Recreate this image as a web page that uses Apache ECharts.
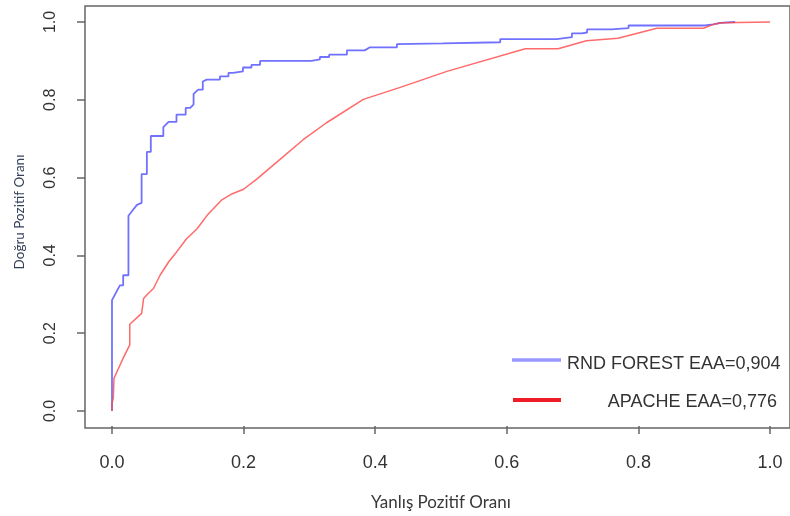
<!DOCTYPE html>
<html>
<head>
<meta charset="utf-8">
<script src="https://cdn.jsdelivr.net/npm/echarts@6/dist/echarts.min.js"></script>
<style>
html,body{margin:0;padding:0;background:#fff;}
#chart{width:790px;height:516px;}
</style>
</head>
<body>
<div id="chart"></div>
<script>
// RND FOREST ROC curve (false positive rate, true positive rate)
var rfFpr = [0,0,0.012,0.017,0.017,0.025,0.025,0.030,0.038,0.045,0.045,0.053,0.053,0.059,0.059,0.078,0.078,0.086,0.098,0.098,0.112,0.112,0.119,0.124,0.124,0.131,0.138,0.138,0.144,0.164,0.164,0.177,0.177,0.184,0.184,0.199,0.199,0.212,0.212,0.225,0.225,0.303,0.303,0.316,0.316,0.330,0.330,0.357,0.357,0.384,0.392,0.433,0.433,0.503,0.590,0.590,0.676,0.676,0.699,0.699,0.714,0.722,0.722,0.759,0.759,0.785,0.785,0.901,0.914,0.924,0.947];
var rfTpr = [0,0.285,0.323,0.323,0.349,0.349,0.502,0.513,0.530,0.535,0.609,0.609,0.666,0.666,0.707,0.707,0.730,0.743,0.743,0.762,0.762,0.779,0.779,0.788,0.815,0.826,0.826,0.847,0.852,0.852,0.860,0.860,0.869,0.869,0.873,0.873,0.883,0.883,0.890,0.890,0.900,0.900,0.904,0.904,0.910,0.910,0.916,0.916,0.927,0.927,0.935,0.935,0.943,0.945,0.948,0.956,0.956,0.961,0.961,0.971,0.971,0.973,0.981,0.981,0.984,0.984,0.991,0.991,0.994,0.998,1.0];
// APACHE ROC curve
var apFpr = [0,0,0.002,0.003,0.010,0.017,0.027,0.027,0.045,0.048,0.055,0.063,0.073,0.086,0.096,0.113,0.129,0.146,0.167,0.182,0.200,0.220,0.250,0.291,0.326,0.382,0.438,0.509,0.628,0.678,0.721,0.769,0.828,0.899,0.914,0.929,1.0];
var apTpr = [0,0.020,0.033,0.084,0.110,0.136,0.170,0.223,0.251,0.289,0.302,0.315,0.349,0.383,0.404,0.442,0.468,0.506,0.543,0.558,0.570,0.596,0.639,0.698,0.741,0.801,0.832,0.873,0.931,0.931,0.952,0.958,0.984,0.984,0.994,0.998,1.0];
var seriesNames = ['RND FOREST EAA=0,904', 'APACHE EAA=0,776'];
var tickValues = [0, 0.2, 0.4, 0.6, 0.8, 1.0];
var xTitle = 'Yanlış Pozitif Oranı';
var yTitle = 'Doğru Pozitif Oranı';

function zip(a, b) { return a.map(function (v, i) { return [v, b[i]]; }); }
function fmt(v) { return v.toFixed(1); }

var chart = echarts.init(document.getElementById('chart'), null, {renderer: 'canvas'});
chart.setOption({
  animation: false,
  backgroundColor: '#ffffff',
  grid: [
    {left: 112, right: 20, top: 22, bottom: 103},
    {left: 85, right: -6, top: 6, bottom: 88, show: true, borderColor: '#666', borderWidth: 1.5, backgroundColor: 'transparent', z: 0}
  ],
  xAxis: [
    {
      type: 'value', gridIndex: 0, min: tickValues[0], max: tickValues[tickValues.length - 1], interval: 0.2,
      offset: 15,
      axisLine: {show: false, onZero: false},
      axisTick: {show: true, length: 8, lineStyle: {color: '#666', width: 1.5}},
      splitLine: {show: false},
      axisLabel: {formatter: fmt, fontSize: 18, color: '#333', margin: 28, fontFamily: 'Liberation Sans, Arial, sans-serif'},
      name: xTitle, nameLocation: 'middle', nameGap: 68,
      nameTextStyle: {fontSize: 17, color: '#383838', fontFamily: 'Lato, Open Sans, sans-serif'}
    },
    {type: 'value', gridIndex: 1, min: -0.04, max: 1.04, show: false}
  ],
  yAxis: [
    {
      type: 'value', gridIndex: 0, min: tickValues[0], max: tickValues[tickValues.length - 1], interval: 0.2,
      offset: 27,
      axisLine: {show: false, onZero: false},
      axisTick: {show: true, length: 8, lineStyle: {color: '#666', width: 1.5}},
      splitLine: {show: false},
      axisLabel: {formatter: fmt, fontSize: 16, color: '#333', margin: 26, rotate: 90, fontFamily: 'Liberation Sans, Arial, sans-serif'},
      name: yTitle, nameLocation: 'middle', nameGap: 58,
      nameTextStyle: {fontSize: 13.5, color: '#34405a', fontFamily: 'Lato, Open Sans, sans-serif', padding: [0, 0, 0, 9]}
    },
    {type: 'value', gridIndex: 1, min: -0.04, max: 1.04, show: false}
  ],
  series: [
    {
      name: seriesNames[0], type: 'line', xAxisIndex: 0, yAxisIndex: 0,
      data: zip(rfFpr, rfTpr), showSymbol: false, symbol: 'none', clip: false,
      lineStyle: {color: '#5252ff', width: 1.8, opacity: 0.82}, z: 3
    },
    {
      name: seriesNames[1], type: 'line', xAxisIndex: 0, yAxisIndex: 0,
      data: zip(apFpr, apTpr), showSymbol: false, symbol: 'none', clip: false,
      lineStyle: {color: '#ff4545', width: 1.5, opacity: 0.8}, z: 4
    }
  ],
  graphic: [
    {type: 'line', shape: {x1: 512, y1: 360, x2: 561, y2: 360}, style: {stroke: '#9999ff', lineWidth: 3.5}},
    {type: 'line', shape: {x1: 513, y1: 400, x2: 561, y2: 400}, style: {stroke: '#ee1c25', lineWidth: 4}},
    {type: 'text', x: 567, y: 364, style: {text: seriesNames[0], fill: '#333', font: '18px "Liberation Sans", Arial, sans-serif', verticalAlign: 'middle', align: 'left'}},
    {type: 'text', x: 777, y: 402, style: {text: seriesNames[1], fill: '#333', font: '18px "Liberation Sans", Arial, sans-serif', verticalAlign: 'middle', align: 'right'}}
  ]
});
</script>
</body>
</html>
